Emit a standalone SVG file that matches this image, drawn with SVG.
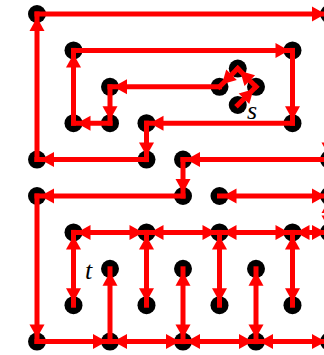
<svg xmlns="http://www.w3.org/2000/svg" width="324" height="355" viewBox="0 0 324 355">
<style>
.n{fill:#000}
.e{stroke:#f00;stroke-width:5;fill:none;stroke-linecap:square}
.s{marker-end:url(#ah)}
.d{marker-start:url(#ah);marker-end:url(#ah)}
.lb{font-family:"Liberation Serif",serif;font-style:italic;font-size:26px;fill:#000}
</style>
<defs>
<marker id="ah" markerUnits="userSpaceOnUse" markerWidth="20" markerHeight="16" refX="17" refY="7.5" orient="auto-start-reverse" overflow="visible">
<path d="M0,0 L13.5,7.5 L0,15 Z" fill="#f00"/>
</marker>
</defs>
<rect width="324" height="355" fill="#fff"/>
<g id="nodes">
<g id="n0_0"><circle class="n" cx="37" cy="14" r="9"/></g>
<g id="n8_0"><circle class="n" cx="329" cy="14" r="9"/></g>
<g id="n1_1"><circle class="n" cx="73.5" cy="50.4" r="9"/></g>
<g id="n7_1"><circle class="n" cx="292.5" cy="50.4" r="9"/></g>
<g id="n2_2"><circle class="n" cx="110" cy="86.8" r="9"/></g>
<g id="dL"><circle class="n" cx="219.5" cy="86.8" r="9"/></g>
<g id="dT"><circle class="n" cx="237.75" cy="68.6" r="9"/></g>
<g id="dR"><circle class="n" cx="256" cy="86.8" r="9"/></g>
<g id="s"><circle class="n" cx="237.75" cy="105" r="9"/><text class="lb" x="247" y="119">s</text></g>
<g id="n1_3"><circle class="n" cx="73.5" cy="123.2" r="9"/></g>
<g id="n2_3"><circle class="n" cx="110" cy="123.2" r="9"/></g>
<g id="n3_3"><circle class="n" cx="146.5" cy="123.2" r="9"/></g>
<g id="n7_3"><circle class="n" cx="292.5" cy="123.2" r="9"/></g>
<g id="n0_4"><circle class="n" cx="37" cy="159.6" r="9"/></g>
<g id="n3_4"><circle class="n" cx="146.5" cy="159.6" r="9"/></g>
<g id="n4_4"><circle class="n" cx="183" cy="159.6" r="9"/></g>
<g id="n8_4"><circle class="n" cx="329" cy="159.6" r="9"/></g>
<g id="n0_5"><circle class="n" cx="37" cy="196" r="9"/></g>
<g id="n4_5"><circle class="n" cx="183" cy="196" r="9"/></g>
<g id="n5_5"><circle class="n" cx="219.5" cy="196" r="9"/></g>
<g id="n8_5"><circle class="n" cx="329" cy="196" r="9"/></g>
<g id="n1_6"><circle class="n" cx="73.5" cy="232.4" r="9"/></g>
<g id="n3_6"><circle class="n" cx="146.5" cy="232.4" r="9"/></g>
<g id="n5_6"><circle class="n" cx="219.5" cy="232.4" r="9"/></g>
<g id="n7_6"><circle class="n" cx="292.5" cy="232.4" r="9"/></g>
<g id="n8_6"><circle class="n" cx="329" cy="232.4" r="9"/></g>
<g id="t"><circle class="n" cx="110" cy="268.8" r="9"/><text class="lb" x="85" y="279">t</text></g>
<g id="n4_7"><circle class="n" cx="183" cy="268.8" r="9"/></g>
<g id="n6_7"><circle class="n" cx="256" cy="268.8" r="9"/></g>
<g id="n1_8"><circle class="n" cx="73.5" cy="305.2" r="9"/></g>
<g id="n3_8"><circle class="n" cx="146.5" cy="305.2" r="9"/></g>
<g id="n5_8"><circle class="n" cx="219.5" cy="305.2" r="9"/></g>
<g id="n7_8"><circle class="n" cx="292.5" cy="305.2" r="9"/></g>
<g id="n0_9"><circle class="n" cx="37" cy="341.6" r="9"/></g>
<g id="n2_9"><circle class="n" cx="110" cy="341.6" r="9"/></g>
<g id="n4_9"><circle class="n" cx="183" cy="341.6" r="9"/></g>
<g id="n6_9"><circle class="n" cx="256" cy="341.6" r="9"/></g>
<g id="n8_9"><circle class="n" cx="329" cy="341.6" r="9"/></g>
</g>
<g id="connectors">
<path class="e s" d="M237.75,105 L256,86.8"/>
<path class="e s" d="M256,86.8 L237.75,68.6"/>
<path class="e s" d="M237.75,68.6 L219.5,86.8"/>
<path class="e s" d="M219.5,86.8 L110,86.8"/>
<path class="e s" d="M110,86.8 L110,123.2"/>
<path class="e s" d="M110,123.2 L73.5,123.2"/>
<path class="e s" d="M73.5,123.2 L73.5,50.4"/>
<path class="e s" d="M73.5,50.4 L292.5,50.4"/>
<path class="e s" d="M292.5,50.4 L292.5,123.2"/>
<path class="e s" d="M292.5,123.2 L146.5,123.2"/>
<path class="e s" d="M146.5,123.2 L146.5,159.6"/>
<path class="e s" d="M146.5,159.6 L37,159.6"/>
<path class="e s" d="M37,159.6 L37,14"/>
<path class="e s" d="M37,14 L329,14"/>
<path class="e s" d="M329,14 L329,159.6"/>
<path class="e s" d="M329,159.6 L183,159.6"/>
<path class="e s" d="M183,159.6 L183,196"/>
<path class="e s" d="M183,196 L37,196"/>
<path class="e s" d="M37,196 L37,341.6"/>
<path class="e s" d="M37,341.6 L110,341.6"/>
<path class="e s" d="M110,341.6 L110,268.8"/>
<path class="e d" d="M219.5,196 L329,196"/>
<path class="e d" d="M329,196 L329,232.4"/>
<path class="e d" d="M73.5,232.4 L146.5,232.4"/>
<path class="e d" d="M146.5,232.4 L219.5,232.4"/>
<path class="e d" d="M219.5,232.4 L292.5,232.4"/>
<path class="e d" d="M292.5,232.4 L329,232.4"/>
<path class="e d" d="M73.5,232.4 L73.5,305.2"/>
<path class="e d" d="M146.5,232.4 L146.5,305.2"/>
<path class="e d" d="M219.5,232.4 L219.5,305.2"/>
<path class="e d" d="M292.5,232.4 L292.5,305.2"/>
<path class="e d" d="M183,268.8 L183,341.6"/>
<path class="e d" d="M256,268.8 L256,341.6"/>
<path class="e d" d="M110,341.6 L183,341.6"/>
<path class="e d" d="M183,341.6 L256,341.6"/>
<path class="e d" d="M256,341.6 L329,341.6"/>
</g>
</svg>
